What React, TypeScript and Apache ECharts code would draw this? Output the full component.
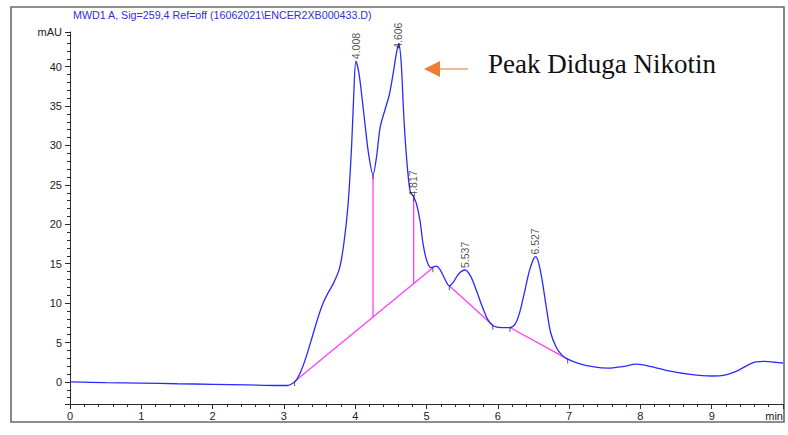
import React, { useEffect, useRef } from 'react';
import * as echarts from 'echarts';

// ---- data ----
const chartTitle = 'MWD1 A, Sig=259,4 Ref=off (16062021\\ENCER2XB000433.D)';
const yUnit = 'mAU';
const xUnit = 'min';
const xMin = 0;
const xMax = 10;
const yMin = -2.8;
const yMax = 44.4;

const signalTime = [
  0, 0.5, 1.0, 1.5, 2.0, 2.5, 2.9, 3.05, 3.12, 3.18, 3.25, 3.32, 3.4, 3.48, 3.55, 3.62, 3.7, 3.78,
  3.84, 3.9, 3.95, 3.98, 4.01, 4.05, 4.09, 4.14, 4.19, 4.25, 4.3, 4.35, 4.42, 4.48, 4.53, 4.58,
  4.61, 4.645, 4.68, 4.72, 4.77, 4.82, 4.86, 4.91, 4.95, 5.0, 5.06, 5.14, 5.2, 5.26, 5.32, 5.38,
  5.45, 5.54, 5.62, 5.7, 5.78, 5.86, 5.94, 6.05, 6.17, 6.24, 6.3, 6.37, 6.44, 6.5, 6.53, 6.57,
  6.62, 6.68, 6.74, 6.82, 6.9, 6.98, 7.15, 7.35, 7.55, 7.75, 7.95, 8.15, 8.4, 8.7, 9.0, 9.2,
  9.38, 9.52, 9.62, 9.75, 9.88, 10.0,
];
const signalValue = [
  0, -0.08, -0.15, -0.23, -0.3, -0.38, -0.45, -0.45, -0.2, 0.3, 1.6, 3.4, 5.8, 8.2, 10.0, 11.3, 12.6, 14.4,
  17.5, 22.5, 30, 36.5, 40.7, 39.3, 36.5, 32.5, 28.8, 26.3, 28.6, 32.3, 34.6, 36.5, 39.0, 41.8,
  42.9, 40.5, 34, 28.5, 24.2, 23.5, 22.6, 20.4, 17.6, 15.5, 14.5, 14.7, 14.1, 13.0, 12.2, 12.7,
  13.7, 14.2, 13.4, 11.6, 9.6, 7.9, 7.1, 6.9, 6.9, 7.3, 8.6, 11.2, 14.0, 15.6, 15.9, 15.2,
  13.0, 9.5, 6.3, 4.4, 3.4, 2.9, 2.3, 1.9, 1.75, 1.95, 2.25, 1.95, 1.4, 0.95, 0.75, 0.9,
  1.5, 2.2, 2.55, 2.6, 2.5, 2.4,
];

const baselineA = [[3.15, 0.05], [5.09, 14.5]];
const baselineB = [[5.32, 12.2], [5.93, 7.2]];
const baselineC = [[6.17, 6.9], [6.98, 2.9]];
const dropLine1 = [[4.25, 26.3], [4.25, 8.2]];
const dropLine2 = [[4.82, 23.5], [4.82, 12.5]];

const peakLabels = ['4.008', '4.606', '4.817', '5.537', '6.527'];
const peakTimes = [4.008, 4.606, 4.817, 5.537, 6.527];
const peakHeights = [40.7, 42.9, 23.5, 14.2, 15.9];
const peakLabelGap = [2, -5, 0, 2, 2];

const markTimes = [3.15, 4.25, 4.61, 4.82, 5.09, 5.32, 5.93, 6.17, 6.98];
const markValues = [0.05, 26.3, 42.9, 23.5, 14.5, 12.2, 7.2, 6.9, 2.9];

const annotationText = 'Peak Diduga Nikotin';

export default function App() {
  const ref = useRef<HTMLDivElement>(null);

  useEffect(() => {
    if (!ref.current) return;
    const chart = echarts.init(ref.current, undefined, { renderer: 'svg' });
    const font = '"Liberation Sans", Arial, sans-serif';
    const pink = '#ff3dff';
    const axisColor = '#2a2a2a';

    const signal = signalTime.map((t, i) => [t, signalValue[i]]);
    const peaks = peakTimes.map((t, i) => ({
      value: [t, peakHeights[i]],
      name: peakLabels[i],
      label: { distance: peakLabelGap[i] },
    }));
    const marks = markTimes.map((t, i) => [t, markValues[i]]);

    const pinkLine = (data: number[][]) => ({
      type: 'line',
      data,
      showSymbol: false,
      symbol: 'none',
      lineStyle: { color: pink, width: 1.3 },
      z: 2,
      silent: true,
    });

    chart.setOption({
      animation: false,
      backgroundColor: '#ffffff',
      title: {
        text: chartTitle,
        left: 73,
        top: 9,
        padding: 0,
        textStyle: { fontFamily: font, fontSize: 10.7, fontWeight: 'normal', color: '#3030d8' },
      },
      grid: { left: 70, right: 5, top: 32, bottom: 31, containLabel: false },
      xAxis: {
        type: 'value',
        min: xMin,
        max: xMax,
        interval: 1,
        axisLine: { show: true, onZero: false, lineStyle: { color: axisColor, width: 1 } },
        axisTick: { show: true, length: 5, lineStyle: { color: axisColor } },
        minorTick: { show: true, splitNumber: 5, length: 3, lineStyle: { color: axisColor } },
        splitLine: { show: false },
        axisLabel: {
          fontFamily: font,
          fontSize: 11,
          color: '#222',
          margin: 6,
          alignMaxLabel: 'right',
          formatter: (v: number) => (Math.abs(v - xMax) < 1e-6 ? xUnit : String(v)),
        },
      },
      yAxis: [
        {
          type: 'value',
          min: yMin,
          max: yMax,
          splitNumber: 9,
          axisLine: { show: true, onZero: false, lineStyle: { color: axisColor, width: 1 } },
          axisTick: { show: true, length: 5, lineStyle: { color: axisColor } },
          splitLine: { show: false },
          axisLabel: {
            fontFamily: font,
            fontSize: 11,
            color: '#222',
            margin: 8,
            showMinLabel: true,
            showMaxLabel: true,
            formatter: (v: number) => {
              if (Math.abs(v - yMax) < 1e-6) return yUnit;
              if (Math.abs(v % 5) < 1e-6) return String(v);
              return '';
            },
          },
        },
        {
          type: 'value',
          min: yMin,
          max: yMax,
          splitNumber: 47,
          position: 'left',
          axisLine: { show: false },
          axisTick: { show: true, length: 3, lineStyle: { color: axisColor } },
          splitLine: { show: false },
          axisLabel: { show: false },
        },
      ],
      series: [
        pinkLine(baselineA),
        pinkLine(baselineB),
        pinkLine(baselineC),
        pinkLine(dropLine1),
        pinkLine(dropLine2),
        {
          type: 'line',
          name: 'signal',
          data: signal,
          showSymbol: false,
          symbol: 'none',
          smooth: 0.3,
          lineStyle: { color: '#2a2aff', width: 1.3 },
          z: 3,
          silent: true,
        },
        {
          type: 'scatter',
          data: marks,
          symbol: 'rect',
          symbolSize: [1, 5],
          symbolOffset: [0, 2],
          itemStyle: { color: '#333' },
          z: 4,
          silent: true,
        },
        {
          type: 'scatter',
          data: peaks,
          symbolSize: 0,
          itemStyle: { color: 'transparent' },
          z: 5,
          silent: true,
          label: {
            show: true,
            position: 'top',
            distance: 2,
            rotate: 90,
            align: 'left',
            verticalAlign: 'middle',
            fontFamily: font,
            fontSize: 10.5,
            color: '#1e1e1e',
            formatter: (p: any) => p.name,
          },
        },
      ],
      graphic: [
        {
          type: 'rect',
          shape: { x: 11, y: 7, width: 773, height: 415 },
          style: { fill: 'none', stroke: '#6a6a6a', lineWidth: 1.6 },
          silent: true,
          z: 0,
        },
        {
          type: 'line',
          shape: { x1: 438, y1: 69, x2: 468, y2: 69 },
          style: { stroke: '#f4b894', lineWidth: 2 },
          silent: true,
        },
        {
          type: 'polygon',
          shape: { points: [[424, 69], [440, 61], [440, 77]] },
          style: { fill: '#ed7d31' },
          silent: true,
        },
        {
          type: 'text',
          x: 488,
          y: 64,
          style: {
            text: annotationText,
            font: '27px "Liberation Serif", "Times New Roman", serif',
            fill: '#111',
            textAlign: 'left',
            textVerticalAlign: 'middle',
          },
          silent: true,
        },
      ],
    });

    return () => chart.dispose();
  }, []);

  return (
    <div
      ref={ref}
      style={{ position: 'fixed', left: 0, top: 0, width: 788, height: 435, background: '#fff' }}
    />
  );
}
